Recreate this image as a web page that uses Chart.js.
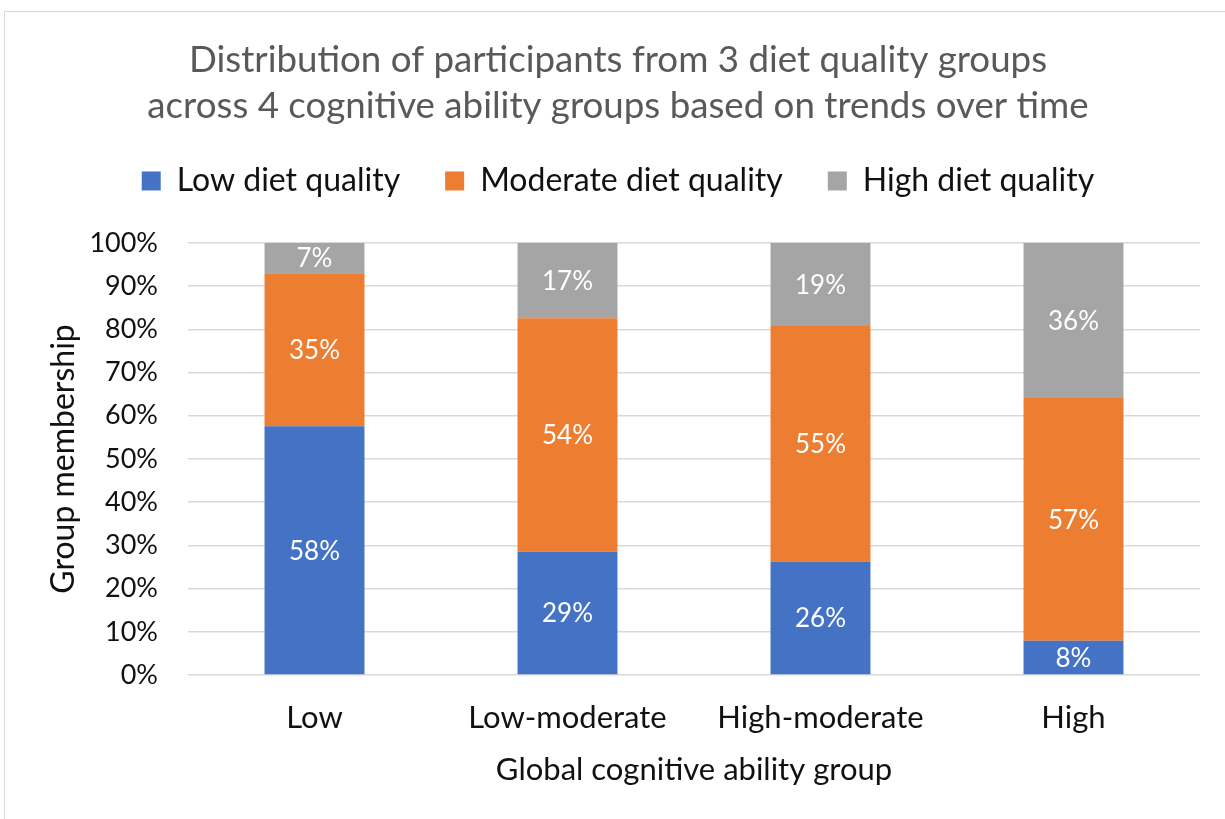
<!doctype html>
<html lang="en">
<head>
<meta charset="utf-8">
<title>Diet quality by cognitive ability group</title>
<script src="https://cdn.jsdelivr.net/npm/chart.js@4"></script>
<style>
  html, body { margin: 0; padding: 0; background: #fff; }
  .frame { position: absolute; left: 4px; top: 11px; width: 1300px; height: 900px; border: 1px solid #d9d9d9; }
  .wrap { position: absolute; left: 0; top: 0; width: 1225px; height: 819px; }
</style>
</head>
<body>
<div class="frame"></div>
<div class="wrap"><canvas id="myChart"></canvas></div>
<script>
// categories on the x axis
const groups = ['Low', 'Low-moderate', 'High-moderate', 'High'];
// share of each cognitive group (bar heights, %)
const lowDiet = [57.6, 28.5, 26.2, 7.9];
const moderateDiet = [35.4, 54.1, 54.6, 56.2];
const highDiet = [7.0, 17.4, 19.2, 35.9];
// printed labels on the bars
const lowDietLabels = ['58%', '29%', '26%', '8%'];
const moderateDietLabels = ['35%', '54%', '55%', '57%'];
const highDietLabels = ['7%', '17%', '19%', '36%'];
const yTicks = [0, 10, 20, 30, 40, 50, 60, 70, 80, 90, 100];

const fontFamily = 'Lato, Carlito, "Open Sans", sans-serif';
const textColor = '#111111';

// draws the white percent text in the middle of every segment
const barLabels = {
  id: 'barLabels',
  afterDatasetsDraw(chart) {
    const ctx = chart.ctx;
    ctx.save();
    ctx.fillStyle = '#ffffff';
    ctx.font = '26px ' + fontFamily;
    ctx.textAlign = 'center';
    ctx.textBaseline = 'middle';
    chart.data.datasets.forEach((ds, i) => {
      const meta = chart.getDatasetMeta(i);
      meta.data.forEach((bar, j) => {
        const mid = (bar.y + bar.base) / 2;
        ctx.fillText(ds.printed[j], bar.x, mid + 1);
      });
    });
    ctx.restore();
  }
};

// empty box under the legend so the plot starts lower
const legendGap = {
  id: 'legendGap',
  beforeInit(chart) {
    const box = {
      options: {},
      position: 'top',
      weight: 500,
      fullSize: true,
      top: 0, left: 0, right: 0, bottom: 0, width: 0, height: 0,
      isHorizontal() { return true; },
      update(maxWidth) {
        this.width = maxWidth;
        this.height = 36;
      },
      draw() {}
    };
    Chart.layouts.addBox(chart, box);
  }
};

const ctx = document.getElementById('myChart').getContext('2d');
const myChart = new Chart(ctx, {
  type: 'bar',
  data: {
    labels: groups,
    datasets: [
      { label: 'Low diet quality', data: lowDiet, printed: lowDietLabels, backgroundColor: '#4472C4' },
      { label: 'Moderate diet quality', data: moderateDiet, printed: moderateDietLabels, backgroundColor: '#ED7D31' },
      { label: 'High diet quality', data: highDiet, printed: highDietLabels, backgroundColor: '#A5A5A5' }
    ]
  },
  options: {
    responsive: true,
    maintainAspectRatio: false,
    animation: false,
    datasets: { bar: { categoryPercentage: 1, barPercentage: 0.395 } },
    layout: { padding: { left: 36, right: 25, top: 0, bottom: 0 } },
    plugins: {
      title: {
        display: true,
        text: ['Distribution of participants from 3 diet quality groups', 'across 4 cognitive ability groups based on trends over time'],
        color: '#595959',
        font: { family: fontFamily, size: 36.7, weight: 'normal', lineHeight: 1.253 },
        padding: { top: 37, bottom: -9 }
      },
      legend: {
        position: 'top',
        labels: {
          color: textColor,
          font: { family: fontFamily, size: 32 },
          boxWidth: 19,
          boxHeight: 19,
          padding: 45
        }
      },
      tooltip: { enabled: false }
    },
    scales: {
      x: {
        stacked: true,
        afterFit: (scale) => { scale.height = 144; },
        grid: { display: false, drawTicks: false },
        border: { display: false },
        ticks: { color: textColor, font: { family: fontFamily, size: 31 }, padding: 24 },
        title: { display: true, text: 'Global cognitive ability group', color: textColor, font: { family: fontFamily, size: 31 }, padding: { top: 0, bottom: 30 } }
      },
      y: {
        stacked: true,
        min: 0,
        max: 100,
        afterFit: (scale) => { scale.width = 152; },
        afterBuildTicks: (axis) => { axis.ticks = yTicks.map(v => ({ value: v })); },
        grid: { color: '#d9d9d9', lineWidth: 1.5, drawTicks: false },
        border: { display: false },
        ticks: { color: textColor, font: { family: fontFamily, size: 27 }, padding: 30, callback: v => v + '%' },
        title: { display: true, text: 'Group membership', color: textColor, font: { family: fontFamily, size: 32 }, padding: { top: 8, bottom: 0 } }
      }
    }
  },
  plugins: [barLabels, legendGap]
});
</script>
</body>
</html>
